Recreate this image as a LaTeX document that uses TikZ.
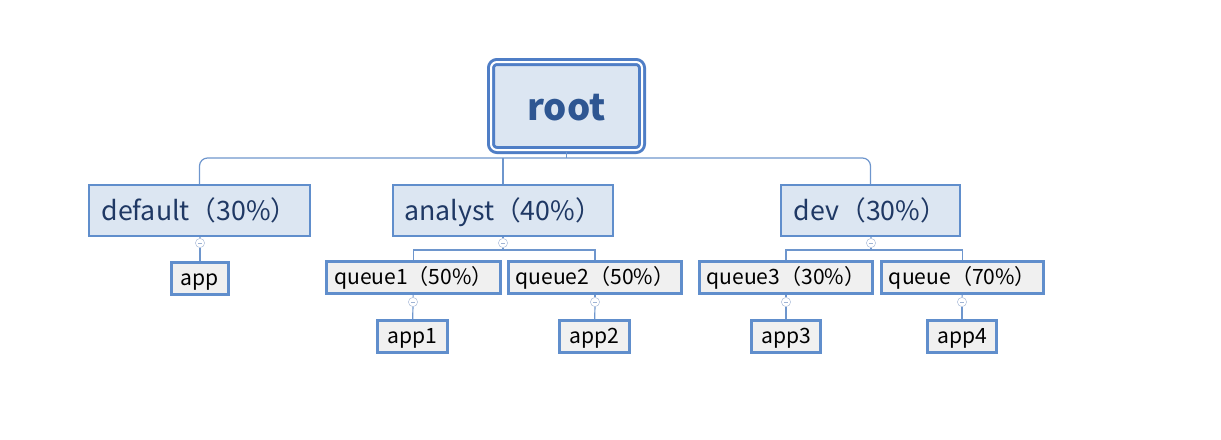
\documentclass[tikz,border=0pt]{standalone}
\usepackage{fontspec}
\setmainfont{Noto Sans CJK SC}

\definecolor{boxline}{RGB}{96,142,204}
\definecolor{rootline}{RGB}{79,126,198}
\definecolor{groupfill}{RGB}{220,230,242}
\definecolor{leaffill}{RGB}{240,240,240}
\definecolor{groupink}{RGB}{31,56,100}
\definecolor{rootink}{RGB}{46,86,146}
\definecolor{linkline}{RGB}{110,150,205}
\definecolor{togglegray}{RGB}{160,180,212}

\begin{document}
\begin{tikzpicture}[
    x = 0.25mm,
    y = -0.25mm,
    inner sep = 0pt,
    top/.style = {draw = rootline, line width = 0.75mm, double = white, double distance = 0.5mm,
      rounded corners = 1.5mm, fill = groupfill, minimum width = 37.75mm, minimum height = 22mm,
      text height = 8.5mm, text depth = 1.5mm,
      text = rootink, font = \fontsize{26}{31}\selectfont\bfseries},
    group/.style = {draw = boxline, line width = 0.5mm, fill = groupfill, minimum height = 12.75mm,
      text height = 6mm, text depth = 0.9mm,
      text = groupink, font = \fontsize{19}{23}\selectfont},
    leaf/.style = {draw = boxline, line width = 0.75mm, fill = leaffill, minimum height = 8mm,
      text height = 4.5mm, text depth = 1.25mm,
      font = \fontsize{15}{18}\selectfont},
    toggle/.style = {circle, draw = togglegray, fill = white, minimum size = 2.3mm, line width = 0.3pt,
      path picture = {\draw[togglegray, line width = 0.3pt]
        ([xshift = 0.6mm]path picture bounding box.west) -- ([xshift = -0.6mm]path picture bounding box.east);}},
    link/.style = {draw = linkline, line width = 0.3mm}
  ]
    \useasboundingbox (0, 0) rectangle (1221, 439);
    \node[top] (root) at (566.5, 106) {root};
    \node[group, minimum width = 55.25mm] (default_queue) at (199.5, 210.5) {default（30\%）};
    \node[group, minimum width = 55mm] (analyst) at (503, 210.5) {analyst（40\%）};
    \node[group, minimum width = 44.75mm] (dev) at (870.5, 210.5) {dev（30\%）};
    \node[toggle] (default_toggle) at (200, 243) {};
    \node[toggle] (analyst_toggle) at (503, 243) {};
    \node[toggle] (dev_toggle) at (871, 243) {};
    \node[leaf, minimum width = 14.25mm] (app) at (200, 278.5) {app};
    \node[leaf, minimum width = 43.5mm] (queue1) at (413.5, 277.5) {queue1（50\%）};
    \node[leaf, minimum width = 43.25mm] (queue2) at (595, 277.5) {queue2（50\%）};
    \node[leaf, minimum width = 43.25mm] (queue3) at (786, 277.5) {queue3（30\%）};
    \node[leaf, minimum width = 40.5mm] (queue4) at (962.5, 277.5) {queue（70\%）};
    \node[toggle] (queue1_toggle) at (413, 302) {};
    \node[toggle] (queue2_toggle) at (595, 302) {};
    \node[toggle] (queue3_toggle) at (786, 302) {};
    \node[toggle] (queue4_toggle) at (962, 302) {};
    \node[leaf, minimum width = 17.5mm] (app1) at (412.5, 336.5) {app1};
    \node[leaf, minimum width = 17.5mm] (app2) at (594.5, 336.5) {app2};
    \node[leaf, minimum width = 17.25mm] (app3) at (786, 336.5) {app3};
    \node[leaf, minimum width = 17.25mm] (app4) at (962, 336.5) {app4};
    \coordinate (root_bus) at (566.5, 158);
    \coordinate (analyst_bus) at (503, 250);
    \coordinate (dev_bus) at (871, 250);
    \draw[link] (root) -- (root_bus);
    \draw[link, rounded corners = 2mm] (default_queue.north) |- (root_bus) -| (dev.north);
    \draw[link] (analyst.north) -- (analyst.north |- root_bus);
    \draw[link] (default_queue) -- (default_toggle);
    \draw[link] (analyst) -- (analyst_toggle);
    \draw[link] (dev) -- (dev_toggle);
    \draw[link] (default_toggle) -- (app);
    \draw[link] (analyst_toggle) -- (analyst_bus);
    \draw[link] (queue1.north) |- (analyst_bus) -| (queue2.north);
    \draw[link] (dev_toggle) -- (dev_bus);
    \draw[link] (queue3.north) |- (dev_bus) -| (queue4.north);
    \draw[link] (queue1) -- (queue1_toggle);
    \draw[link] (queue2) -- (queue2_toggle);
    \draw[link] (queue3) -- (queue3_toggle);
    \draw[link] (queue4) -- (queue4_toggle);
    \draw[link] (queue1_toggle) -- (app1);
    \draw[link] (queue2_toggle) -- (app2);
    \draw[link] (queue3_toggle) -- (app3);
    \draw[link] (queue4_toggle) -- (app4);
  \end{tikzpicture}
\end{document}
